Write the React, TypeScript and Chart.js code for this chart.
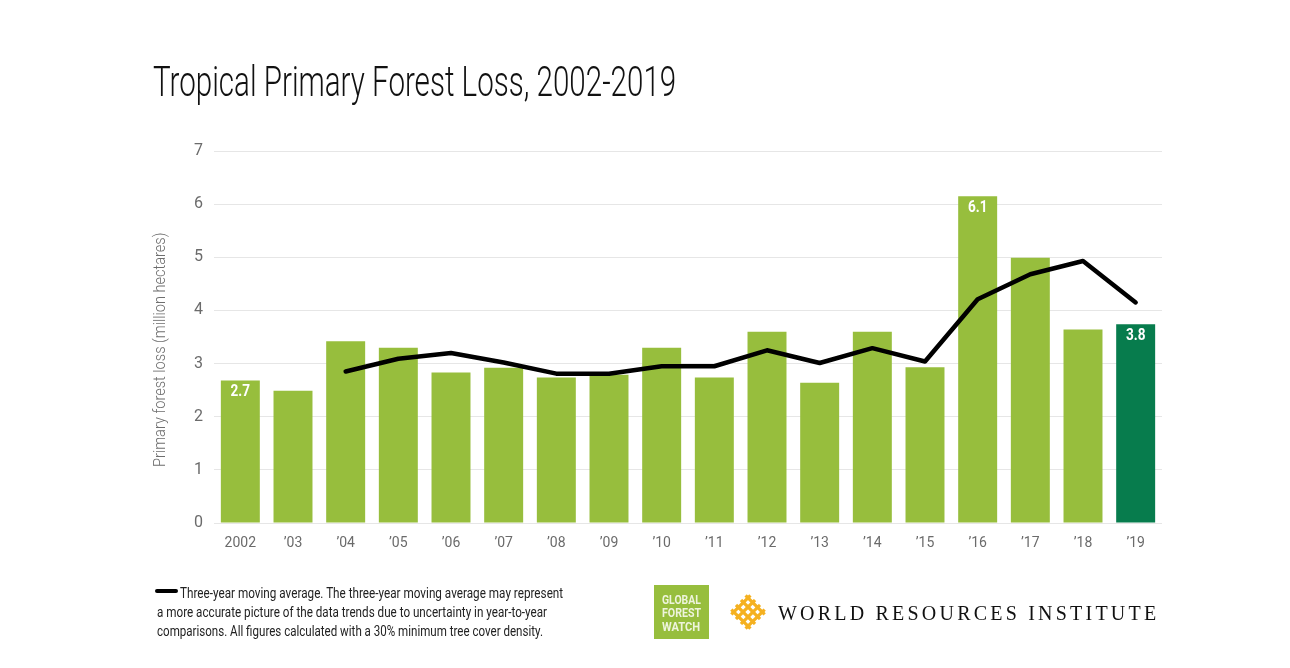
import React, { useEffect, useLayoutEffect, useRef } from "react";
import { Chart, registerables } from "chart.js";

Chart.register(...registerables);

// ---------- data ----------
const categories = ["2002", "’03", "’04", "’05", "’06", "’07", "’08", "’09", "’10", "’11", "’12", "’13", "’14", "’15", "’16", "’17", "’18", "’19"];
const forestLoss = [2.68, 2.49, 3.42, 3.3, 2.83, 2.92, 2.74, 2.79, 3.3, 2.74, 3.6, 2.64, 3.6, 2.93, 6.15, 4.99, 3.64, 3.74];
const movingAverage: (number | null)[] = [null, null, 2.85, 3.09, 3.2, 3.02, 2.81, 2.81, 2.95, 2.95, 3.25, 3.01, 3.29, 3.04, 4.21, 4.68, 4.93, 4.15];
const barLabels = ["2.7", "", "", "", "", "", "", "", "", "", "", "", "", "", "6.1", "", "", "3.8"];
const yTickValues = [0, 1, 2, 3, 4, 5, 6, 7];

const titleText = "Tropical Primary Forest Loss, 2002-2019";
const yAxisTitle = "Primary forest loss (million hectares)";
const footnoteLines = [
  "Three-year moving average. The three-year moving average may represent",
  "a more accurate picture of the data trends due to uncertainty in year-to-year",
  "comparisons. All figures calculated with a 30% minimum tree cover density.",
];
const gfwLines = ["GLOBAL", "FOREST", "WATCH"];
const wriText = "WORLD RESOURCES INSTITUTE";

const LIGHT_GREEN = "#97be3d";
const DARK_GREEN = "#077c4d";

type FitProps = {
  text: string;
  left: number;
  top: number;
  width: number;
  font: string;
  color: string;
  spacing?: boolean;
  rotate?: boolean;
};

function FitText({ text, left, top, width, font, color, spacing, rotate }: FitProps) {
  const ref = useRef<HTMLDivElement>(null);
  useLayoutEffect(() => {
    const fit = () => {
      const el = ref.current;
      if (!el) return;
      el.style.transform = "none";
      el.style.letterSpacing = "0px";
      const w = el.offsetWidth;
      const h = el.offsetHeight;
      if (!w) return;
      if (spacing) {
        el.style.letterSpacing = (width - w) / (text.length - 1) + "px";
      } else if (rotate) {
        el.style.transform = `rotate(-90deg) scaleX(${width / w}) translate(${-w / 2}px, ${-h / 2}px)`;
      } else {
        el.style.transform = `scaleX(${width / w})`;
      }
    };
    fit();
    (document as any).fonts?.ready?.then(fit);
  }, [text, width, font, spacing, rotate]);
  return (
    <div
      ref={ref}
      style={{
        position: "absolute",
        left,
        top,
        font,
        lineHeight: 1,
        color,
        whiteSpace: "nowrap",
        display: "inline-block",
        transformOrigin: "0 0",
      }}
    >
      {text}
    </div>
  );
}

const barLabelPlugin = {
  id: "barLabels",
  afterDatasetsDraw(chart: any) {
    const meta = chart.getDatasetMeta(0);
    const ctx = chart.ctx;
    meta.data.forEach((el: any, i: number) => {
      const t = barLabels[i];
      if (!t) return;
      ctx.save();
      ctx.translate(el.x, el.y + 3);
      ctx.scale(0.8, 1);
      ctx.fillStyle = "#ffffff";
      ctx.textAlign = "center";
      ctx.textBaseline = "top";
      ctx.font = "bold 17px Roboto, sans-serif";
      ctx.fillText(t, 0, 0);
      ctx.restore();
    });
  },
};

function ChartCanvas() {
  const canvasRef = useRef<HTMLCanvasElement>(null);
  useEffect(() => {
    const canvas = canvasRef.current;
    if (!canvas) return;
    const chart = new Chart(canvas, {
      type: "bar",
      data: {
        labels: categories,
        datasets: [
          {
            type: "bar",
            label: "Primary forest loss",
            data: forestLoss,
            backgroundColor: forestLoss.map((_, i) => (i === forestLoss.length - 1 ? DARK_GREEN : LIGHT_GREEN)),
            borderWidth: 0,
            barPercentage: 0.74,
            categoryPercentage: 1,
            order: 2,
          },
          {
            type: "line",
            label: "Three-year moving average",
            data: movingAverage as any,
            borderColor: "#000000",
            borderWidth: 4.5,
            pointRadius: 0,
            tension: 0,
            fill: false,
            borderCapStyle: "round",
            borderJoinStyle: "round",
            order: 1,
          } as any,
        ],
      },
      options: {
        responsive: false,
        animation: false,
        devicePixelRatio: 1,
        layout: { padding: { left: 146, top: 151, right: 128, bottom: 105 } },
        plugins: {
          legend: { display: false },
          tooltip: { enabled: false },
          title: { display: false },
        },
        scales: {
          x: {
            grid: { display: false, drawTicks: false },
            border: { display: false },
            ticks: {
              color: "#6b6b6b",
              font: { family: "Roboto", size: 14 },
              padding: 12,
              maxRotation: 0,
              autoSkip: false,
            },
            afterFit: (s: any) => {
              s.height = 40;
            },
          },
          y: {
            min: 0,
            max: 7,
            afterBuildTicks: (s: any) => {
              s.ticks = yTickValues.map((v) => ({ value: v }));
            },
            grid: { color: "#e6e6e6", lineWidth: 1, drawTicks: false },
            border: { display: false },
            ticks: {
              color: "#6b6b6b",
              font: { family: "Roboto", size: 16 },
              padding: 11,
            },
            title: { display: false },
            afterFit: (s: any) => {
              s.width = 68;
            },
          },
        },
      },
      plugins: [barLabelPlugin],
    });
    return () => chart.destroy();
  }, []);
  return (
    <canvas
      ref={canvasRef}
      width={1290}
      height={668}
      style={{ position: "absolute", left: 0, top: 0, width: 1290, height: 668 }}
    />
  );
}

function WriMark() {
  const gold = "#f5b120";
  const lines = [];
  const offs = [-10, -3.5, 3.5, 10];
  for (const o of offs) {
    lines.push(<line key={"a" + o} x1={-17} y1={o} x2={17} y2={o} />);
    lines.push(<line key={"b" + o} x1={o} y1={-17} x2={o} y2={17} />);
  }
  return (
    <svg width={40} height={40} style={{ position: "absolute", left: 728, top: 592 }} viewBox="-20 -20 40 40">
      <g transform="rotate(45)" stroke={gold} strokeWidth={3.2} strokeLinecap="square">
        <clipPath id="wriclip">
          <rect x={-13.5} y={-13.5} width={27} height={27} />
        </clipPath>
        <g clipPath="url(#wriclip)">{lines}</g>
      </g>
    </svg>
  );
}

export default function App() {
  useEffect(() => {
    document.body.style.margin = "0";
  }, []);
  return (
    <div
      style={{
        position: "fixed",
        left: 0,
        top: 0,
        width: 1290,
        height: 668,
        background: "#ffffff",
        overflow: "hidden",
      }}
    >
      <ChartCanvas />
      <FitText text={titleText} left={153} top={60} width={523} font={`300 43px Roboto, sans-serif`} color="#111" />
      <FitText
        text={yAxisTitle}
        left={160}
        top={350}
        width={234}
        font={`300 16px Roboto, sans-serif`}
        color="#6e6e6e"
        rotate
      />
      <div
        style={{
          position: "absolute",
          left: 155,
          top: 589,
          width: 23,
          height: 4,
          borderRadius: 2,
          background: "#000",
        }}
      />
      <FitText text={footnoteLines[0]} left={180} top={586} width={383} font={`400 15px Roboto, sans-serif`} color="#222" />
      <FitText text={footnoteLines[1]} left={157} top={605} width={390} font={`400 15px Roboto, sans-serif`} color="#222" />
      <FitText text={footnoteLines[2]} left={157} top={624} width={386} font={`400 15px Roboto, sans-serif`} color="#222" />
      <div
        style={{
          position: "absolute",
          left: 654,
          top: 585,
          width: 55,
          height: 54,
          background: LIGHT_GREEN,
        }}
      />
      <FitText text={gfwLines[0]} left={662} top={594} width={39} font={`700 12px Roboto, sans-serif`} color="#eef4dc" />
      <FitText text={gfwLines[1]} left={662} top={607} width={39} font={`700 12px Roboto, sans-serif`} color="#eef4dc" />
      <FitText text={gfwLines[2]} left={662} top={621} width={38} font={`700 12px Roboto, sans-serif`} color="#eef4dc" />
      <WriMark />
      <FitText
        text={wriText}
        left={778}
        top={603}
        width={378}
        font={`400 20px "Liberation Serif", "DejaVu Serif", serif`}
        color="#111"
        spacing
      />
    </div>
  );
}
